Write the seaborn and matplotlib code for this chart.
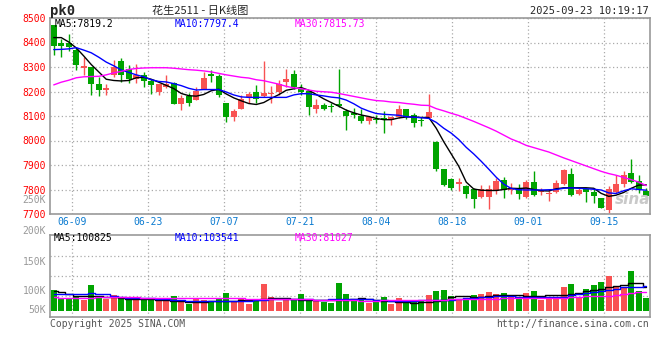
import numpy as np
import matplotlib
matplotlib.use("Agg")
import matplotlib.pyplot as plt
import seaborn as sns

# Set visual theme
sns.set_theme(style="white")
plt.rcParams["font.family"] = ["DejaVu Sans Mono", "Noto Sans CJK SC"]

# ------------------------------------------------------------------
# Data (pk0 daily K, 80 trading days)
# ------------------------------------------------------------------
opens = [8470, 8396, 8399, 8368, 8296, 8299, 8229, 8205, 8269, 8323, 8291, 8253, 8269, 8243, 8197, 8217,
         8236, 8147, 8182, 8164, 8212, 8270, 8262, 8155, 8096, 8128, 8178, 8197, 8182, 8189, 8196, 8239,
         8270, 8209, 8201, 8128, 8144, 8141, 8148, 8121, 8113, 8099, 8079, 8088, 8090, 8083, 8096, 8128,
         8103, 8085, 8090, 7995, 7883, 7843, 7822, 7814, 7802, 7771, 7771, 7794, 7838, 7800, 7802, 7771,
         7832, 7791, 7781, 7791, 7822, 7863, 7781, 7802, 7791, 7767, 7716, 7788, 7821, 7867, 7834, 7794]
highs = [8472, 8415, 8436, 8382, 8341, 8299, 8259, 8231, 8330, 8335, 8310, 8314, 8280, 8253, 8229, 8269,
         8238, 8185, 8194, 8219, 8280, 8286, 8273, 8155, 8128, 8185, 8198, 8225, 8324, 8221, 8246, 8293,
         8286, 8232, 8201, 8168, 8155, 8155, 8290, 8130, 8133, 8128, 8096, 8103, 8119, 8096, 8144, 8130,
         8114, 8096, 8189, 7997, 7883, 7845, 7845, 7818, 7807, 7818, 7818, 7848, 7852, 7825, 7822, 7838,
         7875, 7807, 7802, 7838, 7883, 7889, 7805, 7805, 7802, 7767, 7814, 7859, 7875, 7924, 7859, 7805]
lows = [8350, 8341, 8364, 8286, 8266, 8185, 8182, 8185, 8259, 8239, 8235, 8236, 8219, 8191, 8187, 8215,
        8147, 8126, 8141, 8164, 8212, 8239, 8178, 8076, 8079, 8128, 8155, 8155, 8178, 8153, 8185, 8219,
        8209, 8185, 8106, 8113, 8124, 8117, 8137, 8042, 8090, 8072, 8067, 8072, 8031, 8062, 8090, 8087,
        8056, 8058, 8090, 7875, 7814, 7798, 7794, 7767, 7726, 7767, 7719, 7781, 7767, 7781, 7761, 7767,
        7773, 7777, 7754, 7784, 7818, 7773, 7777, 7750, 7746, 7726, 7705, 7784, 7811, 7825, 7784, 7761]
closes = [8386, 8386, 8381, 8307, 8304, 8229, 8205, 8214, 8300, 8266, 8253, 8269, 8243, 8225, 8229, 8229,
          8151, 8174, 8153, 8201, 8255, 8262, 8185, 8096, 8119, 8171, 8189, 8171, 8193, 8193, 8232, 8253,
          8219, 8198, 8137, 8144, 8128, 8137, 8140, 8100, 8103, 8079, 8096, 8083, 8085, 8096, 8128, 8096,
          8072, 8079, 8115, 7883, 7818, 7807, 7832, 7781, 7761, 7802, 7802, 7836, 7798, 7805, 7781, 7832,
          7777, 7795, 7783, 7828, 7879, 7777, 7798, 7788, 7773, 7726, 7802, 7822, 7859, 7832, 7798, 7773]

ma5 = [8420, 8420, 8402, 8378, 8345, 8310, 8280, 8250, 8245, 8243, 8245, 8256, 8258, 8250, 8238, 8225,
       8212, 8192, 8183, 8181, 8188, 8203, 8209, 8190, 8174, 8162, 8151, 8147, 8155, 8172, 8187, 8205,
       8211, 8216, 8205, 8188, 8170, 8155, 8140, 8124, 8113, 8104, 8098, 8090, 8085, 8085, 8092, 8096,
       8096, 8094, 8094, 8050, 7995, 7945, 7895, 7830, 7802, 7797, 7796, 7796, 7800, 7805, 7804, 7806,
       7800, 7795, 7794, 7803, 7807, 7807, 7807, 7807, 7805, 7784, 7772, 7777, 7788, 7805, 7818, 7819]
ma10 = [8371, 8372, 8374, 8379, 8369, 8358, 8340, 8320, 8305, 8288, 8278, 8268, 8260, 8248, 8241, 8239,
        8232, 8224, 8213, 8206, 8208, 8208, 8208, 8198, 8186, 8178, 8176, 8176, 8176, 8176, 8176, 8176,
        8186, 8191, 8191, 8186, 8182, 8177, 8174, 8165, 8150, 8132, 8120, 8110, 8107, 8105, 8103, 8097,
        8095, 8093, 8090, 8074, 8050, 8030, 8004, 7972, 7945, 7915, 7883, 7850, 7822, 7804, 7799, 7798,
        7798, 7798, 7799, 7800, 7805, 7807, 7805, 7803, 7801, 7798, 7786, 7784, 7795, 7803, 7800, 7797]
ma30 = [8227, 8238, 8246, 8256, 8260, 8261, 8262, 8268, 8276, 8282, 8290, 8294, 8296, 8297, 8297, 8297,
        8295, 8292, 8289, 8287, 8284, 8280, 8274, 8268, 8263, 8258, 8255, 8248, 8244, 8237, 8230, 8221,
        8215, 8211, 8206, 8201, 8199, 8197, 8192, 8186, 8180, 8174, 8168, 8163, 8161, 8157, 8155, 8151,
        8148, 8144, 8143, 8130, 8121, 8111, 8102, 8090, 8078, 8065, 8052, 8038, 8022, 8006, 7994, 7980,
        7971, 7962, 7953, 7941, 7929, 7918, 7907, 7896, 7885, 7874, 7865, 7858, 7849, 7840, 7830, 7816]

# volume in thousands of lots
vol_k = [88, 50, 50, 62, 45, 109, 55, 50, 65, 50, 50, 55, 50, 50, 44, 44,
         62, 40, 28, 50, 45, 37, 50, 75, 38, 51, 28, 40, 113, 58, 37, 51,
         48, 71, 43, 45, 37, 33, 119, 71, 43, 45, 33, 38, 58, 28, 54, 38,
         38, 41, 67, 84, 88, 64, 51, 51, 67, 71, 79, 71, 75, 58, 58, 75,
         84, 45, 54, 60, 101, 113, 58, 92, 109, 122, 147, 105, 95, 169, 84, 54]
vma5_k = [84, 80, 70, 62, 62, 62, 61, 60, 58, 52, 50, 50, 49, 48, 47, 45,
          43, 40, 38, 38, 38, 40, 41, 42, 43, 44, 45, 47, 50, 52, 54, 55,
          50, 45, 45, 44, 44, 45, 45, 45, 48, 53, 50, 45, 43, 40, 37, 36,
          34, 35, 38, 42, 46, 58, 62, 63, 60, 57, 62, 67, 67, 68, 66, 63,
          63, 64, 65, 65, 65, 70, 77, 83, 88, 94, 100, 106, 111, 118, 116, 101]
vma10_k = [71, 70, 70, 69, 72, 74, 72, 69, 64, 58, 55, 55, 55, 54, 51, 48,
           46, 44, 42, 41, 40, 40, 40, 40, 40, 41, 42, 44, 47, 49, 50, 51,
           49, 48, 48, 47, 47, 48, 48, 49, 49, 50, 48, 46, 44, 42, 41, 42,
           43, 44, 45, 45, 46, 47, 50, 53, 56, 58, 60, 61, 61, 61, 60, 58,
           57, 57, 58, 59, 60, 66, 70, 75, 80, 85, 89, 94, 99, 102, 102, 103]
vma30_k = [57, 54, 53, 54, 55, 56, 57, 57, 57, 57, 57, 57, 56, 56, 55, 55,
           54, 53, 53, 52, 52, 52, 52, 52, 52, 52, 51, 51, 51, 51, 50, 50,
           49, 48, 48, 47, 46, 45, 45, 44, 44, 43, 43, 43, 44, 44, 44, 44,
           44, 44, 44, 45, 47, 48, 48, 48, 48, 49, 50, 51, 52, 53, 54, 53,
           53, 53, 54, 55, 56, 58, 60, 62, 62, 62, 64, 68, 72, 74, 78, 81]

date_labels = ["06-09", "06-23", "07-07", "07-21", "08-04", "08-18", "09-01", "09-15"]
price_ticks = [7700, 7800, 7900, 8000, 8100, 8200, 8300, 8400, 8500]
vol_tick_labels = ["250K", "200K", "150K", "100K", "50K"]

title_code = "pk0"
title_name = "花生2511 - 日K线图"
stamp = "2025-09-23 10:19:17"
price_legend = ["MA5:7819.2", "MA10:7797.4", "MA30:7815.73"]
vol_legend = ["MA5:100825", "MA10:103541", "MA30:81027"]

# ------------------------------------------------------------------
# Figure
# ------------------------------------------------------------------
W, H = 660, 360
RED, GREEN = "#f85252", "#00a400"
GRID = "#aaaaaa"
BORDER = "#999999"

fig = plt.figure(figsize=(W / 100, H / 100), dpi=100)
fig.patch.set_facecolor("white")
ax = fig.add_axes([50 / W, 1 - 214 / H, 600 / W, 196 / H])
axv = fig.add_axes([50 / W, 1 - 317 / H, 600 / W, 82 / H])


def ftext(x, y, s, **kw):
    kw.setdefault("va", "center")
    kw.setdefault("fontsize", 7)
    fig.text(x / W, 1 - y / H, s, **kw)


days = np.arange(len(closes))
o = np.array(opens)
c = np.array(closes)
colors = np.where(c >= o, RED, GREEN)

# date gridlines sit on a fixed 76px raster in the original
grid_x = 2.47 + 10.133 * np.arange(len(date_labels))

for a in (ax, axv):
    a.set_facecolor("white")
    a.set_xlim(-0.5, 79.5)
    a.set_xticks(grid_x)
    a.grid(True, color=GRID, linestyle=(0, (1, 2)), linewidth=0.9)
    a.set_axisbelow(True)
    for sp in a.spines.values():
        sp.set_color(BORDER)
        sp.set_linewidth(1.2)

# candles
ax.vlines(days, lows, highs, colors=colors, linewidth=1)
ax.bar(days, np.maximum(np.abs(c - o), 4), bottom=np.minimum(o, c),
       width=0.76, color=colors, linewidth=0)

sns.lineplot(x=days, y=ma5, color="black", linewidth=1, ax=ax)
sns.lineplot(x=days, y=ma10, color="#0000ff", linewidth=1, ax=ax)
sns.lineplot(x=days, y=ma30, color="#ff00ff", linewidth=1, ax=ax)

ax.set_ylim(7700, 8500)
ax.set_yticks(price_ticks)
ax.set_xticklabels(date_labels)
ax.tick_params(axis="y", length=0, pad=3, labelsize=7, labelcolor="#ff0000")
ax.tick_params(axis="x", length=0, pad=2.5, labelsize=7, labelcolor="#0a7ad0")
ax.set_xlabel("")
ax.set_ylabel("")

# volume
axv.bar(days, vol_k, width=0.82, color=colors, linewidth=0)
sns.lineplot(x=days, y=vma5_k, color="black", linewidth=1, drawstyle="steps-mid", ax=axv)
sns.lineplot(x=days, y=vma10_k, color="#0000ff", linewidth=1, drawstyle="steps-mid", ax=axv)
sns.lineplot(x=days, y=vma30_k, color="#ff00ff", linewidth=1, drawstyle="steps-mid", ax=axv)
axv.set_ylim(-26.8, 321.7)
axv.set_yticks([62.5, 147.5, 232.5])
axv.set_yticklabels([])
axv.set_xticklabels([])
axv.tick_params(length=0)
axv.set_xlabel("")
axv.set_ylabel("")

# header
ftext(50, 11, title_code, fontsize=10, fontweight="bold")
ftext(200, 11, title_name, ha="center", fontsize=8,
      family=["Noto Sans CJK SC", "DejaVu Sans"])
ftext(649, 11, stamp, ha="right", fontsize=7.5)

# legends inside panels
for x, s, col in zip([55, 175, 295], price_legend, ["black", "#0000ff", "#ff00ff"]):
    ftext(x, 24, s, color=col)
for x, s, col in zip([54, 175, 295], vol_legend, ["black", "#0000ff", "#ff00ff"]):
    ftext(x, 238, s, color=col)

# odd volume axis labels as drawn by the source
for y, s in zip([200, 231, 262, 291, 310], vol_tick_labels):
    ftext(46, y, s, ha="right", color="#999999")

# watermark
ftext(633, 199, "sina", ha="center", fontsize=11, fontweight="bold",
      style="italic", color="#c9c9c9", family="DejaVu Sans")

# footer
ftext(50, 324, "Copyright 2025 SINA.COM", color="#555555")
ftext(649, 324, "http://finance.sina.com.cn", ha="right", color="#555555")

fig.savefig("out.png", dpi=100)
